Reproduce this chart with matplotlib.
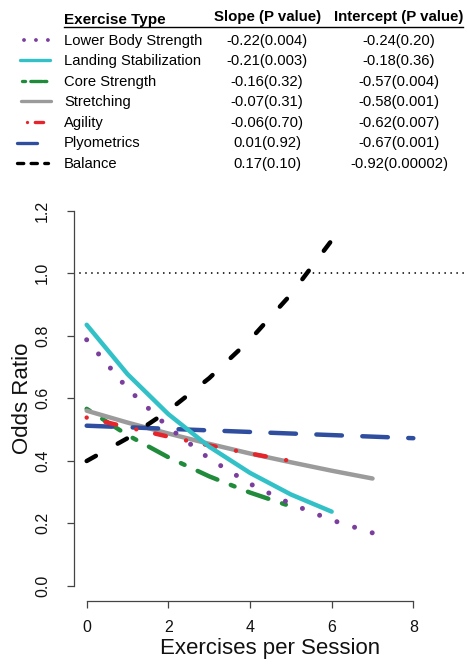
import numpy as np
import matplotlib.pyplot as plt
from matplotlib.lines import Line2D

plt.rcParams['font.family'] = ['Liberation Sans', 'DejaVu Sans']
plt.rcParams['lines.scale_dashes'] = False

# exercise types, table values and fitted odds ratios
types = ["Lower Body Strength", "Landing Stabilization", "Core Strength",
         "Stretching", "Agility", "Plyometrics", "Balance"]
slopes = ["-0.22(0.004)", "-0.21(0.003)", "-0.16(0.32)", "-0.07(0.31)",
          "-0.06(0.70)", "0.01(0.92)", "0.17(0.10)"]
intercepts = ["-0.24(0.20)", "-0.18(0.36)", "-0.57(0.004)", "-0.58(0.001)",
              "-0.62(0.007)", "-0.67(0.001)", "-0.92(0.00002)"]

lower_body = [0.787, 0.631, 0.507, 0.407, 0.326, 0.262, 0.210, 0.169]
landing = [0.835, 0.677, 0.549, 0.445, 0.361, 0.292, 0.237]
core = [0.566, 0.482, 0.411, 0.350, 0.298, 0.254]
stretching = [0.560, 0.522, 0.487, 0.454, 0.423, 0.395, 0.368, 0.343]
agility = [0.538, 0.507, 0.477, 0.449, 0.423, 0.399]
plyometrics = [0.512, 0.507, 0.502, 0.497, 0.492, 0.487, 0.482, 0.477, 0.472]
balance = [0.399, 0.472, 0.560, 0.664, 0.787, 0.932, 1.105]

x_ticks = [0, 2, 4, 6, 8]
y_ticks = [0.0, 0.2, 0.4, 0.6, 0.8, 1.0, 1.2]

purple = '#7A3E9D'
cyan = '#33C1C8'
green = '#1F8B3B'
gray = '#9B9B9B'
red = '#E5252B'
blue = '#2F4E9F'

lw = 3.2
# (color, dash pattern in points, line width) per series
styles = {
    'lower': (purple, (0.01, 13.3), 3.6),
    'landing': (cyan, None, lw),
    'core': (green, (2.9, 10.4, 15.5, 10.4), lw),
    'stretch': (gray, None, lw),
    'agility': (red, (0.01, 13.9, 7.9, 14.9), lw),
    'plyo': (blue, (18.4, 14.7), lw),
    'balance': ('black', (7.6, 18.0), lw),
}

W, H = 467, 664
fig = plt.figure(figsize=(W / 100, H / 100), dpi=100)
ax = fig.add_axes([73.6 / W, 1 - 600.7 / H, (W - 73.6) / W, (600.7 - 195.7) / H])


def draw(ys, key, z):
    col, dash, width = styles[key]
    xs = np.arange(len(ys))
    ln, = ax.plot(xs, ys, color=col, lw=width, solid_capstyle='round',
                  dash_capstyle='round', zorder=z, clip_on=False)
    if dash is not None:
        ln.set_dashes(dash)


ax.axhline(1.0, color='black', lw=1.3, dashes=(0.01, 4.3), dash_capstyle='round', zorder=1)
draw(core, 'core', 2)
draw(stretching, 'stretch', 3)
draw(plyometrics, 'plyo', 4)
draw(agility, 'agility', 5)
draw(lower_body, 'lower', 6)
draw(landing, 'landing', 7)
draw(balance, 'balance', 8)

ax.set_xlim(-0.32, (W - 86.7) / 40.83)
ax.set_ylim(-0.048, 1.248)
for s in ['top', 'right']:
    ax.spines[s].set_visible(False)
ax.spines['left'].set_bounds(0, 1.2)
ax.spines['bottom'].set_bounds(0, 8)
for s in ['left', 'bottom']:
    ax.spines[s].set_color('#444444')
    ax.spines[s].set_linewidth(0.9)
ax.set_xticks(x_ticks)
ax.set_xticklabels([str(v) for v in x_ticks])
ax.set_yticks(y_ticks)
ax.set_yticklabels([f"{v:.1f}" for v in y_ticks], rotation=90, va='center')
ax.tick_params(axis='both', direction='out', length=5, width=0.9, color='#444444',
               labelsize=11.5, labelcolor='#111111')
ax.tick_params(axis='x', pad=9)
ax.tick_params(axis='y', pad=12)
ax.set_xlabel("Exercises per Session", fontsize=16, color='#111111', labelpad=2)
ax.set_ylabel("Odds Ratio", fontsize=16, color='#111111', labelpad=1.5)
ax.patch.set_alpha(0)

# --- table / legend at top ---
def fx(px):
    return px / W


def fy(py):
    return 1 - py / H


fig.text(fx(64), fy(24), "Exercise Type", fontsize=11, fontweight='bold', va='baseline')
fig.text(fx(268), fy(21.5), "Slope (P value)", fontsize=10.8, fontweight='bold',
         va='baseline', ha='center')
fig.text(fx(399), fy(21.5), "Intercept (P value)", fontsize=10.8, fontweight='bold',
         va='baseline', ha='center')
fig.add_artist(Line2D([fx(64), fx(463)], [fy(26.7), fy(26.7)], color='black', lw=1.0))

sample_cols = [purple, cyan, green, gray, red, blue, 'black']
sample_x = [(24, 49), (20, 50), (22, 50), (21, 51), (27, 48), (17, 37), (17, 48)]
sample_dash = [(0.01, 8.6), None, (2.2, 3.8, 8.3, 1), None, (0.01, 5.6, 6.0, 5.6),
               None, (4.5, 5.3)]
for i, name in enumerate(types):
    base = 44.5 + i * 20.6
    fig.text(fx(64), fy(base), name, fontsize=10.6, va='baseline')
    fig.text(fx(267), fy(base), slopes[i], fontsize=10.6, va='baseline', ha='center')
    fig.text(fx(399), fy(base), intercepts[i], fontsize=10.6, va='baseline', ha='center')
    x0, x1 = sample_x[i]
    ln = Line2D([fx(x0), fx(x1)], [fy(base - 5), fy(base - 5)], color=sample_cols[i],
                lw=2.8 if i == 0 else 2.4, solid_capstyle='round', dash_capstyle='round')
    if sample_dash[i] is not None:
        ln.set_dashes(sample_dash[i])
    fig.add_artist(ln)

fig.savefig("out.png", dpi=100)
